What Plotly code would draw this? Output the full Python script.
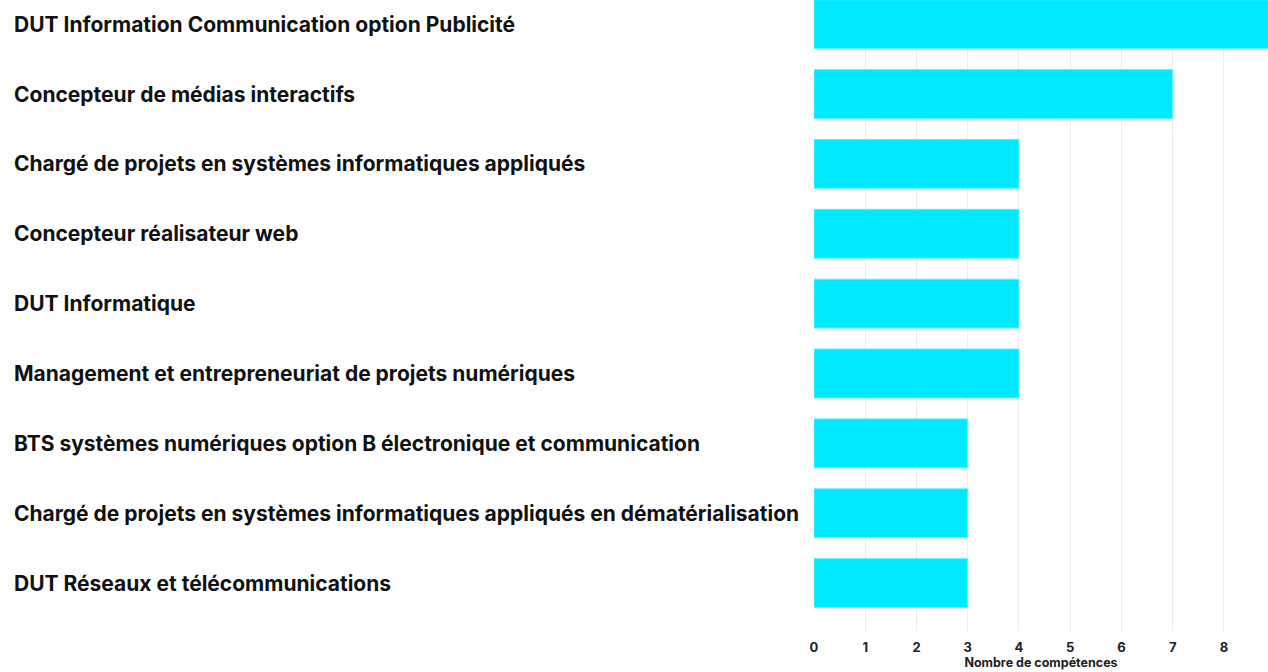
import plotly.graph_objects as go

formations = [
    "DUT Information Communication option Publicité",
    "Concepteur de médias interactifs",
    "Chargé de projets en systèmes informatiques appliqués",
    "Concepteur réalisateur web",
    "DUT Informatique",
    "Management et entrepreneuriat de projets numériques",
    "BTS systèmes numériques option B électronique et communication",
    "Chargé de projets en systèmes informatiques appliqués en dématérialisation",
    "DUT Réseaux et télécommunications",
]
nb_competences = [9, 7, 4, 4, 4, 4, 3, 3, 3]
x_ticks = [0, 1, 2, 3, 4, 5, 6, 7, 8]

CYAN = "#00eaff"
FONT = "Inter, Lato, sans-serif"
PLOT_LEFT = 814
FIG_W = 1268
FIG_H = 672

fig = go.Figure()
fig.add_trace(
    go.Bar(
        y=list(range(len(formations))),
        x=nb_competences,
        orientation="h",
        width=0.7,
        marker=dict(color=CYAN, line=dict(color="#60f0ff", width=1)),
        hoverinfo="x",
        showlegend=False,
    )
)

# labels are left-aligned in the original, so draw them as annotations
plot_w = FIG_W - PLOT_LEFT
annotations = []
for i, name in enumerate(formations):
    annotations.append(
        dict(
            text=name,
            xref="paper",
            yref="y",
            x=(12 - PLOT_LEFT) / plot_w,
            y=i,
            xanchor="left",
            yanchor="middle",
            showarrow=False,
            font=dict(family=FONT, size=21, weight=700, color="#111"),
        )
    )

fig.update_layout(
    width=FIG_W,
    height=FIG_H,
    margin=dict(l=PLOT_LEFT, r=0, t=0, b=41),
    plot_bgcolor="white",
    paper_bgcolor="white",
    font=dict(family=FONT, color="#222"),
    annotations=annotations,
)
fig.update_xaxes(
    range=[0, 8.86],
    tickvals=x_ticks,
    showgrid=True,
    gridcolor="#ececec",
    zeroline=False,
    ticks="",
    ticklabelstandoff=7,
    tickfont=dict(size=13, color="#222", weight=700),
    title=dict(
        text="Nombre de compétences",
        font=dict(size=12.5, color="#222", weight=700),
        standoff=3,
    ),
)
fig.update_yaxes(
    range=[8.686, -0.346],
    showticklabels=False,
    showgrid=False,
    zeroline=False,
)

# the page's default body margin would shift and crop the figure
fig.write_html(
    "out.html",
    config={"displayModeBar": False},
    post_script="document.body.style.margin = '0';",
)
